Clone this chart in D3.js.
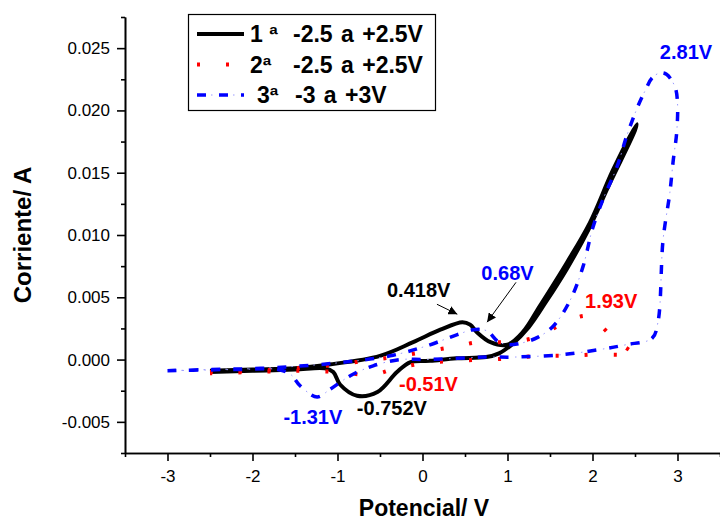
<!DOCTYPE html>
<html>
<head>
<meta charset="utf-8">
<script src="https://cdn.jsdelivr.net/npm/d3@7"></script>
<style>
  body { margin: 0; background: #fff; }
  svg { display: block; font-family: "Liberation Sans", Arial, sans-serif; }
  .axis path, .axis line { stroke: #000; stroke-width: 1.6; }
  .axis text { font-size: 17px; fill: #000; }
</style>
</head>
<body>
<svg id="chart" width="720" height="521"></svg>
<script>
// [potencial V, corriente A], in sweep order
const ciclo1 = [
  [-2.5, -0.0009], [-2.0, -0.0008], [-1.5, -0.0007], [-1.1, -0.0004],
  [-0.5, 0.0003], [-0.11, 0.0014], [0.21, 0.0024], [0.47, 0.0030],
  [0.56, 0.0028], [0.64, 0.0022], [0.8, 0.0014], [1.0, 0.0012],
  [1.18, 0.0022], [1.38, 0.0043], [1.7, 0.0078], [1.97, 0.011],
  [2.24, 0.0152], [2.52, 0.0189],
  [2.5, 0.0184], [2.2, 0.0141], [1.95, 0.0104], [1.7, 0.0073],
  [1.45, 0.0046], [1.25, 0.0026], [1.05, 0.0012], [0.9, 0.0005],
  [0.75, 0.0002], [0.4, 0.0001], [0.09, -0.0001], [-0.14, -0.0002],
  [-0.3, -0.001], [-0.53, -0.0026], [-0.77, -0.0029], [-0.97, -0.002],
  [-1.05, -0.001], [-1.15, -0.0007], [-1.5, -0.0008], [-2.0, -0.0009],
  [-2.5, -0.001]
];
const ciclo2 = [
  [-2.5, -0.001], [-2.0, -0.0009], [-1.5, -0.0007], [-1.0, -0.0004],
  [-0.67, -0.0001], [-0.34, 0.0002], [0.0, 0.0006], [0.35, 0.001],
  [0.66, 0.0014], [1.0, 0.0014], [1.34, 0.0018], [1.68, 0.003],
  [1.93, 0.0035], [2.05, 0.003], [2.3, 0.0014], [2.45, 0.0007],
  [2.5, 0.0005],
  [2.4, 0.0004], [2.0, 0.0004], [1.68, 0.0003], [1.35, 0.0003],
  [1.07, 0.0001], [0.74, 0.0], [0.39, -0.0001], [0.0, -0.0003],
  [-0.36, -0.0008], [-0.51, -0.0011], [-0.7, -0.0012], [-1.0, -0.001],
  [-1.5, -0.0009], [-2.0, -0.001], [-2.5, -0.0011]
];
const ciclo3 = [
  [-3.0, -0.0009], [-2.5, -0.0008], [-1.9, -0.0007], [-1.05, -0.0003],
  [-0.38, 0.0003], [0.05, 0.0011], [0.41, 0.002], [0.6, 0.0024],
  [0.76, 0.0023], [0.88, 0.0015], [0.99, 0.0012], [1.15, 0.0013],
  [1.36, 0.0018], [1.54, 0.0027], [1.74, 0.0048], [1.89, 0.0075],
  [2.0, 0.0105], [2.12, 0.0128], [2.29, 0.0155], [2.4, 0.0179],
  [2.52, 0.0201], [2.62, 0.0216], [2.7, 0.0226], [2.79, 0.023],
  [2.87, 0.0229], [2.97, 0.0219], [3.0, 0.0206],
  [2.99, 0.0182], [2.95, 0.016], [2.91, 0.0134], [2.83, 0.0096],
  [2.77, 0.003], [2.7, 0.0017], [2.4, 0.0012], [2.17, 0.0009],
  [1.65, 0.0004], [1.07, 0.0002], [0.76, 0.0002], [0.05, 0.0],
  [-0.26, 0.0], [-0.58, -0.0005], [-0.85, -0.0013], [-1.09, -0.0024],
  [-1.24, -0.003], [-1.44, -0.0021], [-1.55, -0.0012], [-1.7, -0.0008],
  [-2.2, -0.0008], [-3.0, -0.0009]
];

const xTicks = [-3, -2, -1, 0, 1, 2, 3];
const xMinor = [-3.5, -2.5, -1.5, -0.5, 0.5, 1.5, 2.5, 3.5];
const yTicks = [-0.005, 0, 0.005, 0.01, 0.015, 0.02, 0.025];
const yMinor = [-0.0075, -0.0025, 0.0025, 0.0075, 0.0125, 0.0175, 0.0225, 0.0275];

const leyenda = [
  { num: '1 ª', rango: '-2.5 a +2.5V', serie: 'c1' },
  { num: '2ª', rango: '-2.5 a +2.5V', serie: 'c2' },
  { num: '3ª', rango: '-3 a +3V', serie: 'c3' }
];

// label centre (V) and baseline (A)
const anotaciones = [
  { text: '0.418V', color: '#000', v: -0.045, i: 0.0050 },
  { text: '0.68V', color: '#0000ff', v: 1.0, i: 0.00637 },
  { text: '2.81V', color: '#0000ff', v: 3.10, i: 0.0241 },
  { text: '1.93V', color: '#ff0000', v: 2.22, i: 0.0041 },
  { text: '-0.51V', color: '#ff0000', v: 0.07, i: -0.00254 },
  { text: '-0.752V', color: '#000', v: -0.36, i: -0.00446 },
  { text: '-1.31V', color: '#0000ff', v: -1.29, i: -0.0052 }
];
const flechas = [
  { from: [0.17, 0.00444], to: [0.41, 0.00364] },
  { from: [1.10, 0.0062], to: [0.76, 0.003] }
];

const svg = d3.select('#chart');
const x = d3.scaleLinear().domain([-3.5, 3.5]).range([125, 720]);
const y = d3.scaleLinear().domain([-0.0075, 0.0275]).range([453, 17]);

// axes
svg.append('g').attr('class', 'axis')
  .attr('transform', `translate(0,${y(-0.0075)})`)
  .call(d3.axisBottom(x).tickValues(xTicks).tickSize(8).tickSizeOuter(0)
    .tickPadding(9).tickFormat(d => String(d)));
svg.append('g').attr('class', 'axis')
  .attr('transform', `translate(0,${y(-0.0075)})`)
  .call(d3.axisBottom(x).tickValues(xMinor).tickSize(4).tickSizeOuter(0).tickFormat(''));
svg.append('g').attr('class', 'axis')
  .attr('transform', `translate(${x(-3.5)},0)`)
  .call(d3.axisLeft(y).tickValues(yTicks).tickSize(8).tickSizeOuter(0)
    .tickPadding(7).tickFormat(d => d.toFixed(3)));
svg.append('g').attr('class', 'axis')
  .attr('transform', `translate(${x(-3.5)},0)`)
  .call(d3.axisLeft(y).tickValues(yMinor).tickSize(4).tickSizeOuter(0).tickFormat(''));

svg.append('text')
  .attr('x', 424).attr('y', 516)
  .attr('text-anchor', 'middle')
  .style('font-size', '23px').style('font-weight', 'bold')
  .text('Potencial/ V');
svg.append('text')
  .attr('transform', 'translate(31,235) rotate(-90)')
  .attr('text-anchor', 'middle')
  .style('font-size', '24px').style('font-weight', 'bold')
  .text('Corriente/ A');

// curves
const line = d3.line()
  .x(d => x(d[0])).y(d => y(d[1]))
  .curve(d3.curveCatmullRom.alpha(0.5));

function drawSerie (g, data, serie) {
  if (serie === 'c1') {
    g.append('path').attr('d', data).attr('fill', 'none')
      .attr('stroke', '#000').attr('stroke-width', 4)
      .attr('stroke-linejoin', 'round');
  } else if (serie === 'c2') {
    g.append('path').attr('d', data).attr('fill', 'none')
      .attr('stroke', '#ff0000').attr('stroke-width', 4)
      .attr('stroke-dasharray', '3,26');
  } else {
    g.append('path').attr('d', data).attr('fill', 'none')
      .attr('stroke', '#0000ff').attr('stroke-width', 3.5)
      .attr('stroke-dasharray', '9,13');
    g.append('path').attr('d', data).attr('fill', 'none')
      .attr('stroke', '#9a9aff').attr('stroke-width', 1)
      .attr('stroke-dasharray', '0,14,1.5,6.5');
  }
}

const curvas = svg.append('g');
drawSerie(curvas, line(ciclo1), 'c1');
drawSerie(curvas, line(ciclo2), 'c2');
drawSerie(curvas, line(ciclo3), 'c3');

// annotations
svg.selectAll('.anot').data(anotaciones).enter().append('text')
  .attr('class', 'anot')
  .attr('x', d => x(d.v)).attr('y', d => y(d.i))
  .attr('text-anchor', 'middle')
  .style('font-size', '20px').style('font-weight', 'bold')
  .attr('fill', d => d.color)
  .text(d => d.text);

svg.append('defs').append('marker')
  .attr('id', 'punta').attr('viewBox', '0 0 10 10')
  .attr('refX', 10).attr('refY', 5)
  .attr('markerWidth', 9).attr('markerHeight', 9)
  .attr('markerUnits', 'userSpaceOnUse')
  .attr('orient', 'auto')
  .append('path').attr('d', 'M0,0L10,5L0,10Z').attr('fill', '#000');

svg.selectAll('.flecha').data(flechas).enter().append('line')
  .attr('class', 'flecha')
  .attr('x1', d => x(d.from[0])).attr('y1', d => y(d.from[1]))
  .attr('x2', d => x(d.to[0])).attr('y2', d => y(d.to[1]))
  .attr('stroke', '#000').attr('stroke-width', 1)
  .attr('marker-end', 'url(#punta)');

// legend
const leg = svg.append('g');
leg.append('rect')
  .attr('x', 188.5).attr('y', 14.5).attr('width', 247).attr('height', 96)
  .attr('fill', '#fff').attr('stroke', '#000').attr('stroke-width', 1.2);
leyenda.forEach((d, k) => {
  const cy = 34 + k * 30.5;
  drawSerie(leg, `M197,${cy}L244,${cy}`, d.serie);
  leg.append('text')
    .attr('x', k === 2 ? 257 : 250).attr('y', cy + 8)
    .style('font-size', '23px').style('font-weight', 'bold')
    .text(d.num);
  leg.append('text')
    .attr('x', k === 2 ? 295 : 293).attr('y', cy + 8)
    .style('font-size', '23px').style('font-weight', 'bold')
    .style('word-spacing', '2px')
    .text(d.rango);
});
</script>
</body>
</html>
